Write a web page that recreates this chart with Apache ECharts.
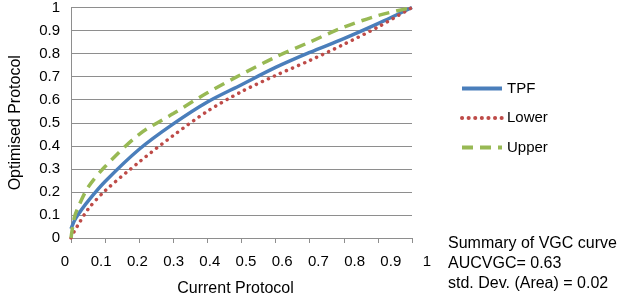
<!DOCTYPE html>
<html>
<head>
<meta charset="utf-8">
<script src="https://cdn.jsdelivr.net/npm/echarts@6/dist/echarts.min.js"></script>
<style>
  html, body { margin: 0; padding: 0; background: #fff; }
  #chart { width: 619px; height: 302px; }
</style>
</head>
<body>
<div id="chart"></div>
<script>
// values
var xVals = [0, 0.01, 0.02, 0.05, 0.1, 0.2, 0.3, 0.4, 0.5, 0.6, 0.7, 0.8, 0.9, 1];
var tpf   = [0.04, 0.075, 0.10, 0.16, 0.245, 0.385, 0.495, 0.59, 0.665, 0.74, 0.805, 0.865, 0.93, 1];
var lower = [0, 0.03, 0.055, 0.125, 0.205, 0.33, 0.445, 0.55, 0.635, 0.705, 0.77, 0.84, 0.915, 1];
var upper = [0, 0.09, 0.13, 0.22, 0.31, 0.45, 0.54, 0.63, 0.71, 0.785, 0.85, 0.915, 0.965, 1];
var xTickLabels = ['0', '0.1', '0.2', '0.3', '0.4', '0.5', '0.6', '0.7', '0.8', '0.9', '1'];
var yTickLabels = ['0', '0.1', '0.2', '0.3', '0.4', '0.5', '0.6', '0.7', '0.8', '0.9', '1'];
var summary = ['Summary of VGC curve', 'AUCVGC= 0.63', 'std. Dev. (Area) = 0.02'];

var font = '"Liberation Sans", Arial, sans-serif';

function pairs(ys) {
  return xVals.map(function (x, i) { return [x, ys[i]]; });
}

var chart = echarts.init(document.getElementById('chart'));
var option = {
  animation: false,
  textStyle: { fontFamily: font },
  grid: [
    { left: 65, right: 207, top: 7, bottom: 61 },
    // only carries the x tick labels (they are spread a little wider in the picture)
    { left: 65, right: 192, top: 7, bottom: 61 }
  ],
  legend: {
    orient: 'vertical',
    left: 460,
    top: 81,
    padding: 0,
    itemWidth: 40,
    itemHeight: 14,
    itemGap: 14.5,
    itemStyle: { opacity: 0 },
    lineStyle: { width: 4 },
    textStyle: { fontSize: 15, color: '#000', fontFamily: font },
    data: ['TPF', 'Lower', 'Upper']
  },
  xAxis: [
    {
      type: 'value', gridIndex: 0, min: 0, max: 1, interval: 0.1,
      name: 'Current Protocol', nameLocation: 'middle', nameGap: 43,
      nameTextStyle: { fontSize: 16, color: '#000', padding: [0, 12, 0, 0] },
      axisLine: { show: true, lineStyle: { color: '#8e8e8e' } },
      axisTick: { show: true, length: 5, lineStyle: { color: '#8e8e8e' } },
      axisLabel: { show: false },
      splitLine: { show: false }
    },
    {
      type: 'value', gridIndex: 1, min: 0, max: 1, interval: 0.1,
      axisLine: { show: false },
      axisTick: { show: false },
      splitLine: { show: false },
      axisLabel: {
        margin: 13, fontSize: 15, color: '#000',
        formatter: function (v) { return xTickLabels[Math.round(v * 10)]; }
      }
    }
  ],
  yAxis: [
    {
      type: 'value', gridIndex: 0, min: 0, max: 1, interval: 0.1,
      name: 'Optimised Protocol', nameLocation: 'middle', nameGap: 47,
      nameTextStyle: { fontSize: 16, color: '#000' },
      axisLine: { show: true, lineStyle: { color: '#8e8e8e' } },
      axisTick: { show: false },
      splitLine: { show: true, lineStyle: { color: '#8e8e8e', width: 1 } },
      axisLabel: {
        margin: 11, fontSize: 15, color: '#000',
        formatter: function (v) { return yTickLabels[Math.round(v * 10)]; }
      }
    },
    { type: 'value', gridIndex: 1, min: 0, max: 1, show: false }
  ],
  series: [
    {
      name: 'TPF', type: 'line', xAxisIndex: 0, yAxisIndex: 0,
      smooth: 0.3, symbol: 'none', data: pairs(tpf),
      lineStyle: { color: '#4a7ebb', width: 3.5 },
      itemStyle: { color: '#4a7ebb' }
    },
    {
      name: 'Lower', type: 'line', xAxisIndex: 0, yAxisIndex: 0,
      smooth: 0.3, symbol: 'none', data: pairs(lower),
      lineStyle: { color: '#be4b48', width: 3.5, type: [0.1, 6.5], cap: 'round' },
      itemStyle: { color: '#be4b48' }
    },
    {
      name: 'Upper', type: 'line', xAxisIndex: 0, yAxisIndex: 0,
      smooth: 0.3, symbol: 'none', data: pairs(upper),
      lineStyle: { color: '#98b954', width: 3.5, type: [11, 7] },
      itemStyle: { color: '#98b954' }
    }
  ],
  graphic: [
    {
      type: 'text', left: 448, top: 234,
      style: {
        text: summary.join('\n'),
        font: '16px ' + font,
        lineHeight: 20,
        fill: '#000'
      }
    }
  ]
};
chart.setOption(option);
</script>
</body>
</html>
